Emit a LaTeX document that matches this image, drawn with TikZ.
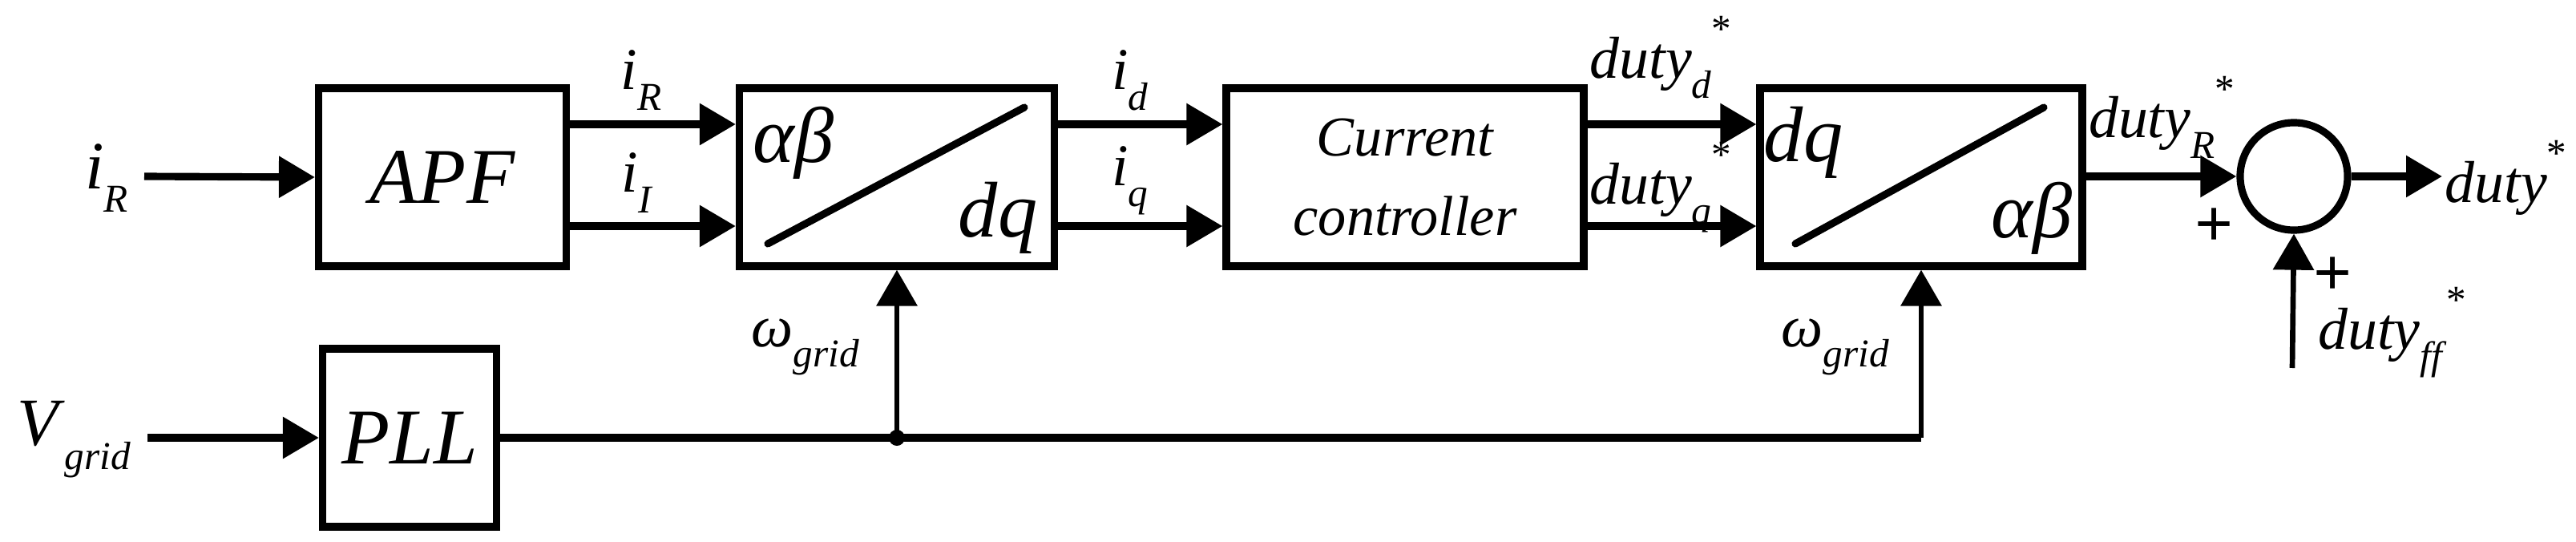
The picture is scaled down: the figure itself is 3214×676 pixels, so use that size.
\documentclass[tikz,border=0pt]{standalone}
\usepackage{fontspec}
\setmainfont{Liberation Serif}
\usetikzlibrary{arrows.meta}
\newcommand{\lbl}[2]{\textit{#1}\raisebox{-0.35em}{\fontsize{14}{14}\selectfont\textit{#2}}}
\newcommand{\lbs}[2]{\textit{#1}\raisebox{-0.35em}{\fontsize{14}{14}\selectfont\textit{#2}}\raisebox{0.6em}{\fontsize{14}{14}\selectfont *}}
\begin{document}
\begin{tikzpicture}[x=0.01cm,y=-0.01cm,
  blk/.style={draw,line width=2.6pt,minimum width=#1*0.01cm,minimum height=2.22cm,inner sep=0pt},
  sig/.style={line width=2.6pt,-{Triangle[length=0.45cm,width=0.5cm]}},
  lab/.style={font=\fontsize{21}{24}\selectfont,inner sep=0pt},
  big/.style={font=\fontsize{28}{30}\selectfont\itshape,inner sep=0pt}]
\useasboundingbox (0,0) rectangle (3214,676);
\node[blk=309,big] (apf) at (552,221) {APF};
\node[blk=217,big] (pll) at (511,546) {PLL};
\node[blk=393] (t1) at (1119,221) {};
\node[blk=446,align=center,font=\fontsize{20}{28}\selectfont\itshape] (cc) at (1753,221) {Current\\controller};
\node[blk=402] (t2) at (2397,221) {};
\draw[line width=2.6pt,line cap=round] (958,304) -- (1278,134);
\draw[line width=2.6pt,line cap=round] (2240,304) -- (2550,134);
\node[big] (ab1) at (990,178) {αβ};
\node[big] (dq1) at (1245,272) {dq};
\node[big] (dq2) at (2250,178) {dq};
\node[big] (ab2) at (2535,272) {αβ};
\node[draw,circle,line width=2.6pt,minimum size=1.34cm,inner sep=0pt] (sum) at (2862,220) {};
\coordinate (in1) at (180,220);
\coordinate (in2) at (184,546);
\coordinate (out) at (3047,220);
\coordinate (ffin) at (2860,459);
\coordinate (dot) at (1119,546);
\coordinate (corner) at (2397,546);
\draw[sig] (in1) -- (apf.west);
\draw[sig] (in2) -- (pll.west);
\draw[sig] (apf.east |- 0,155) -- (t1.west |- 0,155);
\draw[sig] (apf.east |- 0,282) -- (t1.west |- 0,282);
\draw[sig] (t1.east |- 0,155) -- (cc.west |- 0,155);
\draw[sig] (t1.east |- 0,282) -- (cc.west |- 0,282);
\draw[sig] (cc.east |- 0,155) -- (t2.west |- 0,155);
\draw[sig] (cc.east |- 0,282) -- (t2.west |- 0,282);
\draw[sig] (t2.east |- 0,220) -- (sum.west);
\draw[sig] (sum.east) -- (out);
\draw[sig,line width=1.9pt] (ffin) -- (sum.south);
\draw[line width=2.6pt] (pll.east) -- (corner);
\draw[sig,line width=1.9pt] (dot) -- (t1.south);
\draw[sig,line width=1.9pt] (corner) -- (t2.south);
\fill (dot) circle (0.1cm);
\node[lab,font=\fontsize{24}{26}\selectfont] (l1) at (133,222) {\lbl{i}{R}};
\node[lab,font=\fontsize{24}{26}\selectfont] (l2) at (92,548) {\lbl{V}{grid}};
\node[lab] (l3) at (800,100) {\lbl{i}{R}};
\node[lab] (l4) at (795,228) {\lbl{i}{I}};
\node[lab] (l5) at (1410,100) {\lbl{i}{d}};
\node[lab] (l6) at (1410,225) {\lbl{i}{q}};
\node[lab] (l7) at (1005,433) {\lbl{ω}{grid}};
\node[lab] (l8) at (2290,433) {\lbl{ω}{grid}};
\node[lab] (l9) at (2072,72) {\lbs{duty}{d}};
\node[lab] (l10) at (2072,234) {\lbs{duty}{q}};
\node[lab] (l11) at (2697,146) {\lbs{duty}{R}};
\node[lab,anchor=west] (l12) at (3050,222) {\textit{duty}\raisebox{0.6em}{\fontsize{14}{14}\selectfont *}};
\node[lab] (l13) at (2985,415) {\lbs{duty}{ff}};
\node[font=\fontsize{24}{24}\selectfont\bfseries,inner sep=0pt] (p1) at (2763,284) {+};
\node[font=\fontsize{24}{24}\selectfont\bfseries,inner sep=0pt] (p2) at (2911,345) {+};
\end{tikzpicture}
\end{document}
